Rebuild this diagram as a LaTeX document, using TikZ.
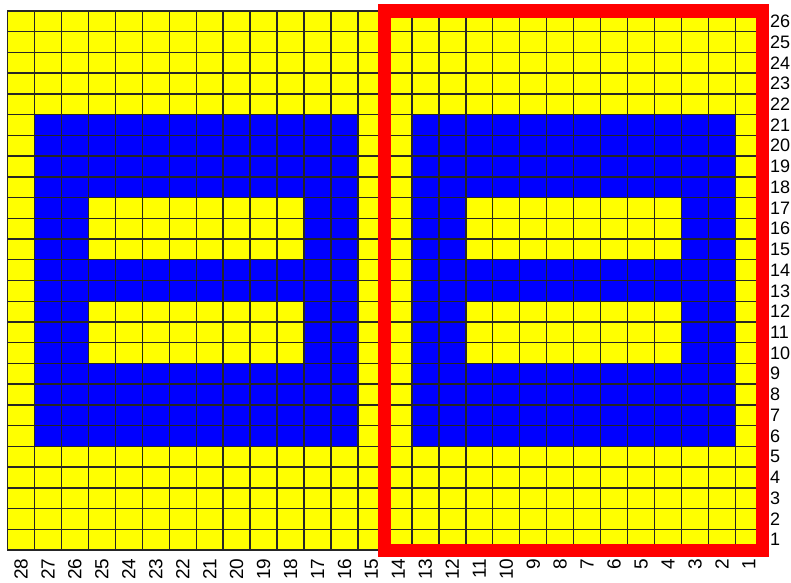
\documentclass[tikz,border=0pt]{standalone}
\usepackage{fontspec}
\setmainfont{Liberation Sans}
\usepackage{tikz}
\usetikzlibrary{positioning}
\definecolor{cellyellow}{HTML}{FFFF00}
\definecolor{cellblue}{HTML}{0000FF}
\definecolor{framered}{HTML}{FF0000}
\tikzset{
  gridlines/.style={draw=black!85,line width=1.4pt},
  yellowcells/.style={fill=cellyellow},
  bluecells/.style={fill=cellblue},
  redframe/.style={draw=framered,line width=13pt},
  rowlabel/.style={anchor=west,inner sep=0pt,font=\fontsize{18}{18}\selectfont},
  collabel/.style={anchor=east,rotate=90,inner sep=0pt,font=\fontsize{19}{19}\selectfont},
}
\begin{document}
\begin{tikzpicture}[x=26.96pt,y=20.73pt]
  \useasboundingbox (-0.278,-1.544) rectangle (29.061,26.531);
  % cells
  \fill[yellowcells] (0,0) rectangle (28,26);
  \foreach \x in {0,14} {
    \fill[bluecells] (\x+1,5) rectangle (\x+13,21);
    \fill[yellowcells] (\x+3,14) rectangle (\x+11,17);
    \fill[yellowcells] (\x+3,9) rectangle (\x+11,12);
  }
  \foreach \i in {0,...,28}
    \draw[gridlines] (\i,0) -- (\i,26);
  \foreach \j in {0,...,26}
    \draw[gridlines] (0,\j) -- (28,\j);
  \draw[redframe] (14,0) rectangle (28,26);
  % axis numbers
  \foreach \r in {1,...,26}
    \node[rowlabel] (row\r) at (28.28,\r-0.5) {\r};
  \foreach \c in {1,...,28}
    \node[collabel] (col\c) at (28.5-\c,-0.4) {\c};
\end{tikzpicture}
\end{document}
